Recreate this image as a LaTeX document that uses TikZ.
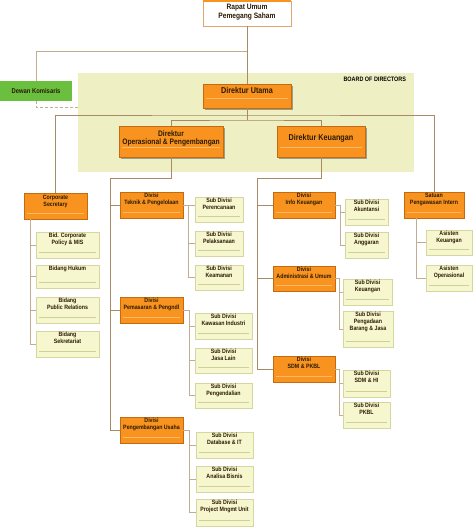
\documentclass[tikz,border=0pt]{standalone}
\usepackage{fontspec}
\setmainfont{Liberation Sans}[FakeStretch=0.85]
\usetikzlibrary{calc,shadows}
\definecolor{orng}{HTML}{F7931E}
\definecolor{orngb}{HTML}{C46A10}
\definecolor{orngl}{HTML}{FDB863}
\definecolor{subf}{HTML}{F7F7CF}
\definecolor{subb}{HTML}{D6D6A0}
\definecolor{subl}{HTML}{CFCF98}
\definecolor{conn}{HTML}{A88A66}
\definecolor{boardc}{HTML}{EEF0C4}
\definecolor{grn}{HTML}{6BBF3F}
\definecolor{txtd}{HTML}{2B1A05}
\newcommand\bx[9][]{%
  \node[#2, anchor=north west, minimum width={(#6-#4)*1pt}, minimum height={(#7-#5)*1pt}] (#3) at (#4,#5) {};
  \node[#8, anchor=north, #1] (#3-t) at ([yshift=-1.5pt]#3.north) {#9};
}
\begin{document}
\begin{tikzpicture}[x=1pt,y=-1pt,
  every node/.style={inner sep=0pt, outer sep=0pt},
  obox/.style={rectangle, fill=orng, draw=orngb, line width=0.5pt,
    drop shadow={shadow xshift=1.2pt,shadow yshift=-1.2pt,fill=black!55,opacity=.55},
    path picture={\draw[orngl,line width=0.5pt] ([xshift=3pt,yshift=6pt]path picture bounding box.south west) -- ([xshift=-3pt,yshift=6pt]path picture bounding box.south east);}},
  dbox/.style={rectangle, fill=orng, draw=orngb, line width=0.5pt,
    drop shadow={shadow xshift=1.5pt,shadow yshift=-1.5pt,fill=black!60,opacity=.6},
    path picture={\draw[orngl,line width=0.5pt] ([xshift=3pt,yshift=10pt]path picture bounding box.south west) -- ([xshift=-3pt,yshift=10pt]path picture bounding box.south east);}},
  sbox/.style={rectangle, fill=subf, draw=subb, line width=0.6pt,
    path picture={\draw[subl,line width=0.5pt] ([xshift=3pt,yshift=6pt]path picture bounding box.south west) -- ([xshift=-3pt,yshift=6pt]path picture bounding box.south east);}},
  wbox/.style={rectangle, fill=white, draw=orngb!60, line width=0.8pt},
  bgbox/.style={rectangle, fill=boardc, draw=none},
  st/.style={align=center, text=txtd, font=\fontsize{6.2}{6.8}\selectfont\bfseries},
  ot/.style={align=center, text=txtd, font=\fontsize{6.2}{6.6}\selectfont\bfseries},
  dt/.style={align=center, text=txtd, font=\fontsize{8.5}{8.5}\selectfont\bfseries},
  dts/.style={align=center, text=txtd, font=\fontsize{7.9}{8.2}\selectfont\bfseries},
  rt/.style={align=center, text=txtd, font=\fontsize{7.8}{9}\selectfont\bfseries},
  conn/.style={draw=conn, line width=0.7pt},
]
\useasboundingbox (0,0) rectangle (474,527);
% board background
\node[bgbox, anchor=north west, minimum width=336pt, minimum height=99pt] (bod) at (78,73) {};
\node[anchor=north east, font=\fontsize{6.4}{6.4}\selectfont\bfseries, text=black] (bodl) at (406,77.5) {BOARD OF DIRECTORS};
% top
\bx[yshift=-2pt]{wbox}{rups}{203}{1}{291}{26}{rt}{Rapat Umum\\Pemegang Saham}
\draw[orng, line width=2pt] (rups.north west) -- (rups.north east);
\node[rectangle, fill=grn, anchor=north west, minimum width=72pt, minimum height=20pt, font=\fontsize{6.9}{7}\selectfont\bfseries, text=txtd] (dk) at (0,81) {Dewan Komisaris};
\bx[yshift=-1.5pt]{dbox}{du}{203}{84}{291}{108}{dt}{Direktur Utama}
\bx[yshift=-3pt]{dbox}{dop}{119}{126}{223}{157}{dts}{Direktur\\Operasional \& Pengembangan}
\bx[yshift=-7pt]{dbox}{dkeu}{277}{126}{365}{157}{dt}{Direktur Keuangan}
% left group
\bx[yshift=-1pt]{obox}{cs}{24}{193}{87}{219}{ot}{Corporate\\Secretary}
\bx{sbox}{cp}{36}{232}{99}{258}{st}{Bid. Corporate\\Policy \& MIS}
\bx{sbox}{bh}{36}{265}{99}{288}{st}{Bidang Hukum}
\bx{sbox}{pr}{36}{297}{99}{323}{st}{Bidang\\Public Relations}
\bx{sbox}{sk}{36}{331}{99}{357}{st}{Bidang\\Sekretariat}
% operasional
\bx{obox}{tk}{120}{192}{183}{218}{ot}{Divisi\\Teknik \& Pengelolaan}
\bx{sbox}{per}{195}{197}{243}{222}{st}{Sub Divisi\\Perencanaan}
\bx{sbox}{pel}{195}{231}{243}{256}{st}{Sub Divisi\\Pelaksanaan}
\bx{sbox}{kea}{195}{265}{243}{290}{st}{Sub Divisi\\Keamanan}
\bx{obox}{pm}{120}{297}{183}{323}{ot}{Divisi\\Pemasaran \& Pengndl}
\bx{sbox}{kw}{195}{313}{252}{339}{st}{Sub Divisi\\Kawasan Industri}
\bx{sbox}{jl}{195}{348}{252}{373}{st}{Sub Divisi\\Jasa Lain}
\bx{sbox}{pgd}{195}{383}{252}{408}{st}{Sub Divisi\\Pengendalian}
\bx{obox}{pu}{120}{417}{183}{443}{ot}{Divisi\\Pengembangan Usaha}
\bx{sbox}{db}{196}{432}{253}{458}{st}{Sub Divisi\\Database \& IT}
\bx{sbox}{ab}{196}{466}{253}{492}{st}{Sub Divisi\\Analisa Bisnis}
\bx{sbox}{pmu}{196}{499}{253}{526}{st}{Sub Divisi\\Project Mngmt Unit}
% keuangan
\bx{obox}{ik}{273}{192}{335}{218}{ot}{Divisi\\Info Keuangan}
\bx{sbox}{ak}{345}{199}{388}{225}{st}{Sub Divisi\\Akuntansi}
\bx{sbox}{ag}{345}{232}{388}{258}{st}{Sub Divisi\\Anggaran}
\bx{obox}{au}{273}{266}{335}{291}{ot}{Divisi\\Administrasi \& Umum}
\bx{sbox}{ku}{343}{279}{392}{305}{st}{Sub Divisi\\Keuangan}
\bx{sbox}{pbj}{343}{311}{393}{347}{st}{Sub Divisi\\Pengadaan\\Barang \& Jasa}
\bx{obox}{sdm}{273}{356}{335}{382}{ot}{Divisi\\SDM \& PKBL}
\bx{sbox}{shi}{343}{370}{390}{397}{st}{Sub Divisi\\SDM \& HI}
\bx{sbox}{pkbl}{343}{402}{390}{428}{st}{Sub Divisi\\PKBL}
% SPI
\bx{obox}{spi}{404}{192}{464}{218}{ot}{Satuan\\Pengawasan Intern}
\bx{sbox}{ask}{426}{230}{472}{255}{st}{Asisten\\Keuangan}
\bx{sbox}{aso}{426}{265}{472}{291}{st}{Asisten\\Operasional}
% coordinates
\coordinate (jk) at (247,51);
\coordinate (jb) at (78,107);
\coordinate (j1) at (247,115);
\coordinate (j2) at (247,120);
\coordinate (sL) at (110,178);
\coordinate (sR) at (257,178);
% connectors top
\draw[conn] (rups.south) -- (du.north);
\draw[conn, draw=conn!70] (jk) -| (dk.north);
\draw[conn, draw=conn!70, dash pattern=on 3pt off 2pt] (dk.south) |- (jb);
\draw[conn] (du.south) -- (j2);
\draw[conn] (cs.north) |- (j1) -| (spi.north);
\draw[conn] (dop.north) |- (j2) -| (dkeu.north);
% director spines
\draw[conn] (dop.south) |- (sL) |- (pu.west);
\draw[conn] (sL) |- (tk.west);
\draw[conn] (sL) |- (pm.west);
\draw[conn] (dkeu.south) |- (sR) |- (sdm.west);
\draw[conn] (sR) |- (ik.west);
\draw[conn] (sR) |- (au.west);
% corporate secretary
\draw[conn, draw=conn!70] ($(cs.south west)+(6,0)$) coordinate (csj) |- (sk.west);
\draw[conn, draw=conn!70] (csj) |- (cp.west);
\draw[conn, draw=conn!70] (csj) |- (bh.west);
\draw[conn, draw=conn!70] (csj) |- (pr.west);
% spi
\draw[conn, draw=conn!70] ($(spi.south west)+(12,0)$) coordinate (spj) |- (aso.west);
\draw[conn, draw=conn!70] (spj) |- (ask.west);
% sub-division connectors
\draw[conn, draw=conn!70] (tk.east) -- ($(tk.east -| per.west)+(-7,0)$) coordinate (tkj) |- (kea.west);
\draw[conn, draw=conn!70] (tkj) -- (tkj -| per.west);
\draw[conn, draw=conn!70] (tkj) |- (pel.west);
\draw[conn, draw=conn!70] (pm.east) -- ($(pm.east -| kw.west)+(-6,0)$) coordinate (pmj) |- (pgd.west);
\draw[conn, draw=conn!70] (pmj) |- (kw.west);
\draw[conn, draw=conn!70] (pmj) |- (jl.west);
\draw[conn, draw=conn!70] (pu.east) -- ($(pu.east -| db.west)+(-7,0)$) coordinate (puj) |- (pmu.west);
\draw[conn, draw=conn!70] (puj) |- (db.west);
\draw[conn, draw=conn!70] (puj) |- (ab.west);
\draw[conn, draw=conn!70] (ik.east) -- ($(ik.east -| ak.west)+(-5,0)$) coordinate (ikj) |- (ag.west);
\draw[conn, draw=conn!70] (ikj) |- (ak.west);
\draw[conn, draw=conn!70] (au.east) -- ($(au.east -| ku.west)+(-4,0)$) coordinate (auj) |- (pbj.west);
\draw[conn, draw=conn!70] (auj) |- (ku.west);
\draw[conn, draw=conn!70] (sdm.east) -- ($(sdm.east -| shi.west)+(-4,0)$) coordinate (sdj) |- (pkbl.west);
\draw[conn, draw=conn!70] (sdj) |- (shi.west);
\end{tikzpicture}
\end{document}
